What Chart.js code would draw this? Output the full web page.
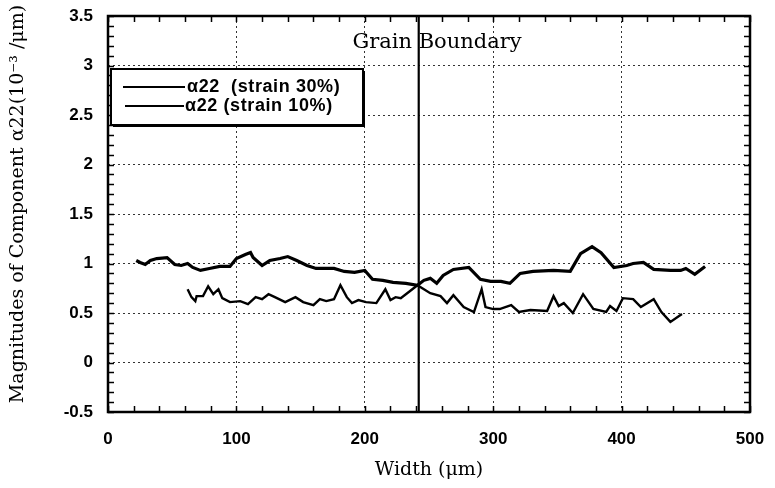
<!DOCTYPE html>
<html>
<head>
<meta charset="utf-8">
<script src="https://cdn.jsdelivr.net/npm/chart.js@4.4.1/dist/chart.umd.min.js"></script>
<style>
  body { margin: 0; background: #fff; }
  #wrap { width: 775px; height: 488px; position: relative; }
</style>
</head>
<body>
<div id="wrap"><canvas id="chart"></canvas></div>
<script>
// values
const width30 = [22, 25, 29, 33, 38, 46, 52, 57, 62, 66, 72, 79, 87, 95, 100, 107, 111, 113, 120, 126,
    134, 140, 147, 155, 162, 176, 184, 192, 200, 206, 214, 222, 232, 241, 246, 251, 256, 261, 269, 281,
    290, 298, 306, 313, 321, 331, 347, 360, 368, 377, 384, 394, 404, 409, 417, 425, 438, 446, 450, 457, 465];
const alpha30 = [1.03, 1.01, 0.99, 1.03, 1.05, 1.06, 0.99, 0.98, 1.0, 0.96, 0.93, 0.95, 0.97, 0.97, 1.05, 1.09, 1.11, 1.06, 0.98, 1.03,
    1.05, 1.07, 1.03, 0.98, 0.95, 0.95, 0.92, 0.91, 0.93, 0.84, 0.83, 0.81, 0.80, 0.78, 0.83, 0.85, 0.80, 0.88, 0.94, 0.96,
    0.84, 0.82, 0.82, 0.80, 0.90, 0.92, 0.93, 0.92, 1.10, 1.17, 1.11, 0.96, 0.98, 1.0, 1.01, 0.94, 0.93, 0.93, 0.95, 0.89, 0.97];

const width10 = [62, 65, 68, 69, 74, 78, 82, 86, 89, 95, 103, 109, 115, 120, 125, 130, 138, 146, 152, 160,
    165, 170, 176, 181, 186, 190, 195, 201, 209, 216, 220, 224, 228, 233, 241, 251, 259, 264, 269, 277,
    285, 291, 294, 300, 305, 314, 320, 329, 342, 347, 351, 355, 362, 370, 378, 388, 391, 396, 401, 409,
    415, 425, 431, 438, 447];
const alpha10 = [0.74, 0.66, 0.62, 0.67, 0.67, 0.77, 0.69, 0.74, 0.65, 0.61, 0.62, 0.59, 0.66, 0.64, 0.69, 0.66, 0.61, 0.66, 0.61, 0.58,
    0.64, 0.62, 0.64, 0.78, 0.66, 0.60, 0.63, 0.61, 0.60, 0.74, 0.63, 0.66, 0.65, 0.70, 0.78, 0.70, 0.67, 0.60, 0.68, 0.56,
    0.51, 0.74, 0.56, 0.54, 0.54, 0.58, 0.51, 0.53, 0.52, 0.67, 0.57, 0.60, 0.50, 0.69, 0.54, 0.51, 0.57, 0.52, 0.65, 0.64,
    0.56, 0.64, 0.51, 0.41, 0.49];

const boundaryWidth = [242, 242];
const boundaryAlpha = [-0.5, 3.5];

const seriesLabels = ['α22  (strain 30%)', 'α22 (strain 10%)'];
const xMin = 0, xMax = 500, xStep = 100, xMinor = 20;
const yMin = -0.5, yMax = 3.5, yStep = 0.5, yMinor = 0.1;

const toPoints = (xs, ys) => xs.map((x, i) => ({ x, y: ys[i] }));

const sans = '"Liberation Sans", Arial, sans-serif';
const serif = '"DejaVu Serif", serif';

const decorations = {
    id: 'decorations',
    afterDatasetsDraw(chart) {
        const { ctx, chartArea: a, scales: { x, y } } = chart;
        ctx.save();

        // small inward ticks on all four sides
        ctx.strokeStyle = '#000';
        ctx.lineWidth = 1.5;
        ctx.beginPath();
        for (let v = xMin; v <= xMax; v += xMinor) {
            const px = Math.round(x.getPixelForValue(v)) + 0.5;
            ctx.moveTo(px, a.top); ctx.lineTo(px, a.top + 6);
            ctx.moveTo(px, a.bottom); ctx.lineTo(px, a.bottom - 6);
        }
        for (let i = Math.round(yMin / yMinor); i <= Math.round(yMax / yMinor); i++) {
            const py = Math.round(y.getPixelForValue(i * yMinor)) + 0.5;
            ctx.moveTo(a.left, py); ctx.lineTo(a.left + 6, py);
            ctx.moveTo(a.right, py); ctx.lineTo(a.right - 6, py);
        }
        ctx.stroke();

        // frame
        ctx.lineWidth = 2.5;
        ctx.strokeRect(a.left, a.top, a.right - a.left, a.bottom - a.top);

        // legend box
        const bx = a.left + 3, by = a.top + 53, bw = 252, bh = 56;
        ctx.fillStyle = '#000';
        ctx.fillRect(bx + 2, by + 2, bw, bh);
        ctx.fillStyle = '#fff';
        ctx.fillRect(bx, by, bw, bh);
        ctx.lineWidth = 2;
        ctx.strokeRect(bx, by, bw, bh);

        ctx.font = 'bold 18px ' + sans;
        ctx.letterSpacing = '0.6px';
        ctx.textBaseline = 'middle';
        ctx.fillStyle = '#000';
        const rows = [
            { y: by + 18, x0: bx + 12, x1: bx + 74, tx: bx + 76 },
            { y: by + 37, x0: bx + 14, x1: bx + 73, tx: bx + 74 },
        ];
        rows.forEach((r, i) => {
            ctx.beginPath();
            ctx.lineWidth = 1.8;
            ctx.moveTo(r.x0, r.y); ctx.lineTo(r.x1, r.y);
            ctx.stroke();
            ctx.fillText(seriesLabels[i], r.tx, r.y);
        });
        ctx.letterSpacing = '0px';

        // annotation over the boundary
        ctx.font = '21px ' + serif;
        ctx.textAlign = 'center';
        ctx.textBaseline = 'alphabetic';
        ctx.fillText('Grain Boundary', 437, 48);

        // axis titles
        ctx.font = '19px ' + serif;
        ctx.textBaseline = 'middle';
        ctx.fillText('Width (μm)', (a.left + a.right) / 2, 470);
        ctx.translate(18, 204);
        ctx.rotate(-Math.PI / 2);
        ctx.fillText('Magnitudes of Component α22(10⁻³ /μm)', 0, 0);

        ctx.restore();
    }
};

new Chart(document.getElementById('chart'), {
    type: 'line',
    data: {
        datasets: [
            {
                label: seriesLabels[0],
                data: toPoints(width30, alpha30),
                borderColor: '#000',
                borderWidth: 3.2,
                pointRadius: 0,
                tension: 0,
            },
            {
                label: seriesLabels[1],
                data: toPoints(width10, alpha10),
                borderColor: '#000',
                borderWidth: 2.4,
                pointRadius: 0,
                tension: 0,
            },
            {
                label: 'Grain Boundary',
                data: toPoints(boundaryWidth, boundaryAlpha),
                borderColor: '#000',
                borderWidth: 2.2,
                pointRadius: 0,
            },
        ],
    },
    options: {
        responsive: true,
        maintainAspectRatio: false,
        animation: false,
        layout: { padding: { top: 16, right: 25, left: 0, bottom: 0 } },
        plugins: {
            legend: { display: false },
            tooltip: { enabled: false },
        },
        scales: {
            x: {
                type: 'linear',
                min: xMin,
                max: xMax,
                ticks: { stepSize: xStep, padding: 0, color: '#000', font: { family: sans, size: 17, weight: 'bold' } },
                grid: { color: '#333', lineWidth: 1, tickLength: 17, tickColor: 'rgba(0,0,0,0)' },
                border: { display: false, dash: [2, 3] },
                afterFit: (s) => { s.height = 76; },
            },
            y: {
                min: yMin,
                max: yMax,
                ticks: {
                    stepSize: yStep, padding: 0, color: '#000',
                    font: { family: sans, size: 17, weight: 'bold' },
                    callback: (v) => String(v),
                },
                grid: { color: '#333', lineWidth: 1, tickLength: 15, tickColor: 'rgba(0,0,0,0)' },
                border: { display: false, dash: [2, 3] },
                afterFit: (s) => { s.width = 108; },
            },
        },
    },
    plugins: [decorations],
});
</script>
</body>
</html>
